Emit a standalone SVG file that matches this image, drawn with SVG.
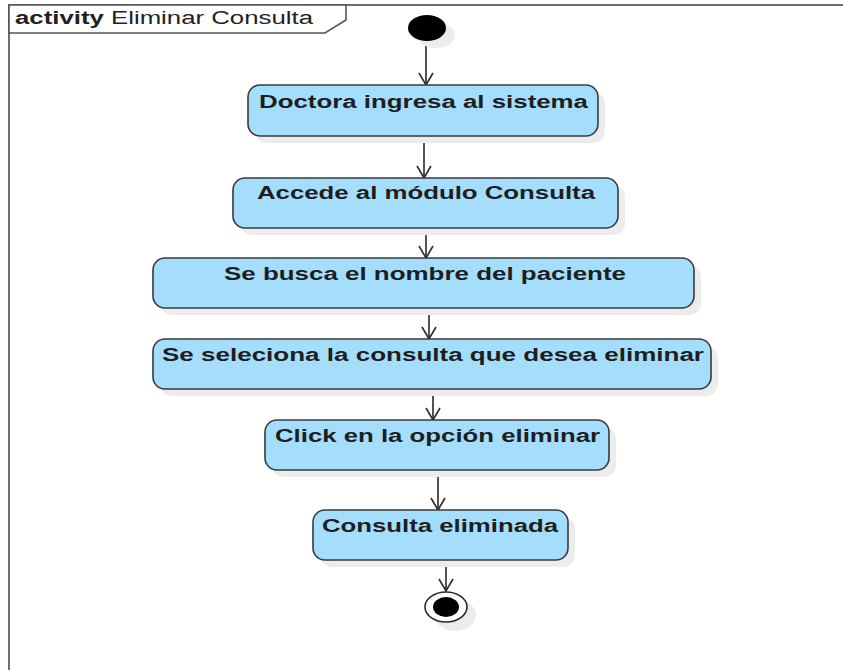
<svg xmlns="http://www.w3.org/2000/svg" width="843" height="670" viewBox="0 0 843 670">
  <style>
    .frame { fill: none; stroke: #6e6e6e; stroke-width: 2; }
    .tab { fill: #ffffff; stroke: #555555; stroke-width: 1.6; }
    .shadow { fill: #ececec; }
    .action { fill: #a5ddfd; stroke: #3a3a3a; stroke-width: 1.6; }
    .label { font-family: "Liberation Sans", Arial, sans-serif; font-size: 18px; font-weight: bold; fill: #1e1e1e; }
    .title { font-family: "Liberation Sans", Arial, sans-serif; font-size: 18px; fill: #222222; }
    .flow { fill: none; stroke: #2a2a2a; stroke-width: 1.6; }
  </style>
  <defs>
    <!-- open V arrowhead, drawn along +x so orient="auto" follows the line -->
    <marker id="open-arrow" markerWidth="20" markerHeight="20" refX="15" refY="10" orient="auto" markerUnits="userSpaceOnUse" viewBox="0 0 20 20">
      <path d="M3,3 L15,10 L3,17" fill="none" stroke="#2a2a2a" stroke-width="1.6"/>
    </marker>
  </defs>

  <rect width="843" height="670" fill="#ffffff"/>

  <!-- activity frame -->
  <g id="frame">
    <path class="frame" d="M9,680 L9,5 L850,5"/>
    <path class="tab" d="M9,5 L346,5 L346,20 L325,33 L9,33 Z"/>
    <text class="title" x="15" y="24" textLength="298" lengthAdjust="spacingAndGlyphs"><tspan font-weight="bold">activity</tspan> Eliminar Consulta</text>
  </g>

  <!-- control flows -->
  <g id="connectors">
    <line class="flow" x1="426" y1="40" x2="426" y2="85" marker-end="url(#open-arrow)"/>
    <line class="flow" x1="424" y1="136" x2="424" y2="178" marker-end="url(#open-arrow)"/>
    <line class="flow" x1="426" y1="228" x2="426" y2="258" marker-end="url(#open-arrow)"/>
    <line class="flow" x1="429" y1="308" x2="429" y2="339" marker-end="url(#open-arrow)"/>
    <line class="flow" x1="433" y1="389" x2="433" y2="420" marker-end="url(#open-arrow)"/>
    <line class="flow" x1="438" y1="470" x2="438" y2="510" marker-end="url(#open-arrow)"/>
    <line class="flow" x1="446" y1="560" x2="446" y2="591" marker-end="url(#open-arrow)"/>
  </g>

  <g id="start">
    <ellipse class="shadow" cx="436" cy="35" rx="19" ry="13"/>
    <ellipse cx="427" cy="28" rx="19" ry="13" fill="#000000"/>
  </g>

  <g id="a1">
    <rect class="shadow" x="255" y="92" width="350" height="51" rx="12"/>
    <rect class="action" x="248" y="85" width="350" height="51" rx="12"/>
    <text class="label" x="259" y="108" textLength="329" lengthAdjust="spacingAndGlyphs">Doctora ingresa al sistema</text>
  </g>

  <g id="a2">
    <rect class="shadow" x="240" y="185" width="385" height="50" rx="12"/>
    <rect class="action" x="233" y="178" width="385" height="50" rx="12"/>
    <text class="label" x="257" y="199" textLength="338" lengthAdjust="spacingAndGlyphs">Accede al módulo Consulta</text>
  </g>

  <g id="a3">
    <rect class="shadow" x="160" y="265" width="541" height="50" rx="12"/>
    <rect class="action" x="153" y="258" width="541" height="50" rx="12"/>
    <text class="label" x="224" y="280" textLength="402" lengthAdjust="spacingAndGlyphs">Se busca el nombre del paciente</text>
  </g>

  <g id="a4">
    <rect class="shadow" x="160" y="346" width="558" height="50" rx="12"/>
    <rect class="action" x="153" y="339" width="558" height="50" rx="12"/>
    <text class="label" x="162" y="361" textLength="542" lengthAdjust="spacingAndGlyphs">Se seleciona la consulta que desea eliminar</text>
  </g>

  <g id="a5">
    <rect class="shadow" x="272" y="427" width="344" height="50" rx="12"/>
    <rect class="action" x="265" y="420" width="344" height="50" rx="12"/>
    <text class="label" x="275" y="442" textLength="325" lengthAdjust="spacingAndGlyphs">Click en la opción eliminar</text>
  </g>

  <g id="a6">
    <rect class="shadow" x="320" y="517" width="255" height="50" rx="12"/>
    <rect class="action" x="313" y="510" width="255" height="50" rx="12"/>
    <text class="label" x="322" y="532" textLength="236" lengthAdjust="spacingAndGlyphs">Consulta eliminada</text>
  </g>

  <g id="final">
    <ellipse class="shadow" cx="455" cy="615" rx="21" ry="16"/>
    <ellipse cx="446" cy="607" rx="21" ry="15" fill="#ffffff" stroke="#2a2a2a" stroke-width="1.6"/>
    <ellipse cx="446" cy="607" rx="13" ry="10" fill="#000000"/>
  </g>
</svg>
